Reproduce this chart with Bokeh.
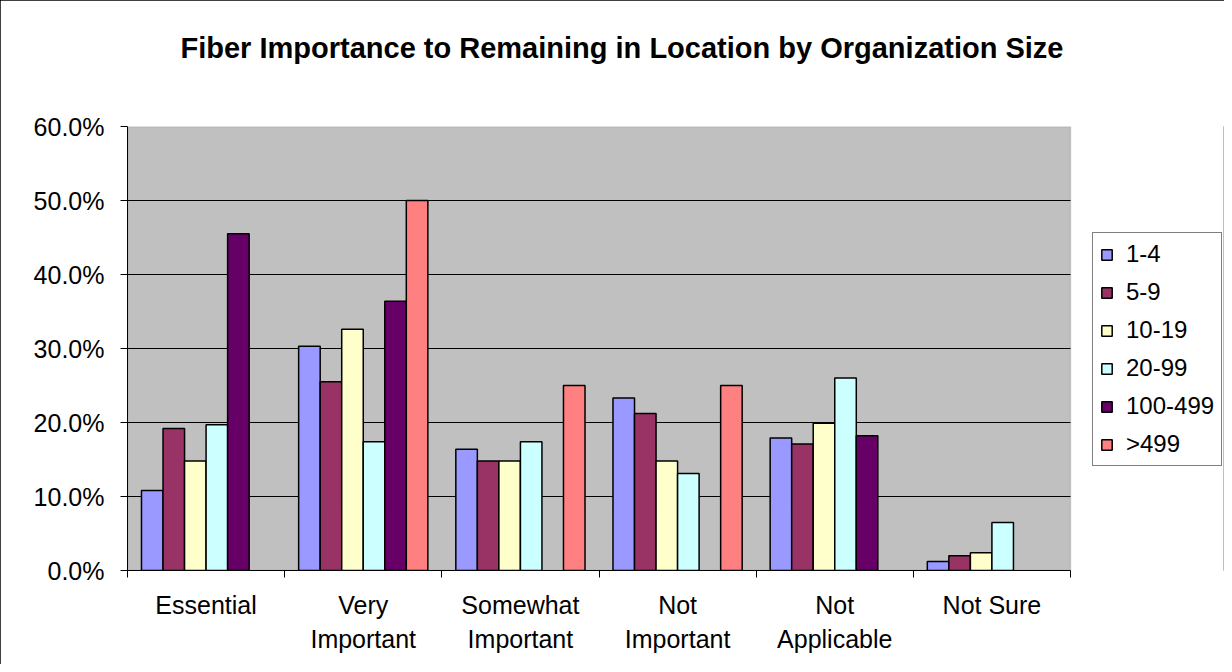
from bokeh.plotting import figure
from bokeh.models import (ColumnDataSource, Range1d, FixedTicker, Title,
                          NumeralTickFormatter, Legend, LegendItem, BoxAnnotation)
from bokeh.embed import file_html
from bokeh.resources import INLINE

# ---------------- data ----------------
categories = ["Essential", "Very Important", "Somewhat Important",
              "Not Important", "Not Applicable", "Not Sure"]
category_labels = ["Essential", "Very\nImportant", "Somewhat\nImportant",
                   "Not\nImportant", "Not\nApplicable", "Not Sure"]
series_names = ["1-4", "5-9", "10-19", "20-99", "100-499", ">499"]

s_1_4 = [10.8, 30.3, 16.4, 23.3, 17.9, 1.2]
s_5_9 = [19.2, 25.5, 14.8, 21.2, 17.1, 2.0]
s_10_19 = [14.8, 32.6, 14.8, 14.8, 19.9, 2.4]
s_20_99 = [19.7, 17.4, 17.4, 13.1, 26.0, 6.5]
s_100_499 = [45.5, 36.4, None, None, 18.2, None]
s_gt_499 = [None, 50.0, 25.0, 25.0, None, None]

series_values = [s_1_4, s_5_9, s_10_19, s_20_99, s_100_499, s_gt_499]
series_colors = ["#9999FF", "#993366", "#FFFFCC", "#CCFFFF", "#660066", "#FF8080"]

y_ticks = [0.0, 0.1, 0.2, 0.3, 0.4, 0.5, 0.6]
title_text = "Fiber Importance to Remaining in Location by Organization Size"

FONT = "Liberation Sans"

# ---------------- layout ----------------
W, H = 1224, 664
left_b, right_b, top_b, bottom_b = 127, 1, 126, 94
plot_area_w = 943          # pixel width of the grey plotting area
frame_w = W - left_b - right_b
n_cat = len(categories)
x_end = n_cat * frame_w / plot_area_w   # frame extends right to hold the legend

p = figure(width=W, height=H, output_backend="svg", toolbar_location=None,
           x_range=Range1d(0, x_end), y_range=Range1d(0, 0.6),
           min_border_left=left_b, min_border_right=right_b,
           min_border_top=top_b, min_border_bottom=bottom_b,
           background_fill_color="white", border_fill_color="white")
p.styles = {"outline": "1px solid black", "outline-offset": "-1px"}
p.outline_line_color = None

# spacer (next to the plot area), then the title above it
p.add_layout(Title(text=" ", text_font_size="50px", standoff=0), "above")
p.add_layout(Title(text=title_text, align="left", offset=53,
                   text_font=FONT, text_font_size="29px",
                   text_font_style="bold", text_color="black"), "above")

# grey plot area
p.add_layout(BoxAnnotation(left=0, right=n_cat, bottom=y_ticks[0], top=y_ticks[-1],
                           fill_color="#C0C0C0", fill_alpha=1,
                           line_color="#808080", line_width=1.5, level="image"))

# horizontal gridlines limited to the plot area
p.xgrid.visible = False
p.ygrid.visible = False
grid_y = y_ticks[1:-1]
p.segment(x0=[0] * len(grid_y), x1=[n_cat] * len(grid_y), y0=grid_y, y1=grid_y,
          line_color="black", line_width=1, level="underlay")

# bars
bar_w = 0.137
n_ser = len(series_names)
items = []
for j, (name, vals, col) in enumerate(zip(series_names, series_values, series_colors)):
    xs, tops = [], []
    for i, v in enumerate(vals):
        if v is None:
            continue
        xs.append(i + 0.5 + (j - (n_ser - 1) / 2) * bar_w)
        tops.append(v / 100.0)
    src = ColumnDataSource(dict(x=xs, top=tops))
    r = p.vbar(x="x", top="top", bottom=0, width=bar_w, source=src,
               fill_color=col, line_color="black", line_width=1.5)
    items.append(LegendItem(label=name, renderers=[r]))

# y axis
p.yaxis.ticker = FixedTicker(ticks=y_ticks)
p.yaxis.formatter = NumeralTickFormatter(format="0.0%")
p.yaxis.major_label_text_font = FONT
p.yaxis.major_label_text_font_size = "25px"
p.yaxis.major_label_text_color = "black"
p.yaxis.major_tick_in = 0
p.yaxis.major_tick_out = 7
p.yaxis.major_tick_line_color = "black"
p.yaxis.minor_tick_line_color = None
p.yaxis.axis_line_color = "black"
p.yaxis.major_label_standoff = 16

# x axis: labels at category centres, ticks at category boundaries
centers = [i + 0.5 for i in range(n_cat)]
bounds = [float(i) for i in range(n_cat + 1)]
p.xaxis.bounds = (0, n_cat)
p.xaxis.ticker = FixedTicker(ticks=centers, minor_ticks=bounds)
p.xaxis.major_label_overrides = {c: lab for c, lab in zip(centers, category_labels)}
p.xaxis.major_tick_line_color = None
p.xaxis.minor_tick_line_color = "black"
p.xaxis.minor_tick_in = 0
p.xaxis.minor_tick_out = 7
p.xaxis.axis_line_color = "black"
p.xaxis.major_label_text_font = FONT
p.xaxis.major_label_text_font_size = "25px"
p.xaxis.major_label_text_color = "black"
p.xaxis.major_label_standoff = 13
p.xaxis.major_label_text_line_height = 1.22

# legend
legend = Legend(items=items, location=(965, 104),
                label_text_font=FONT, label_text_font_size="24px",
                label_text_color="black",
                border_line_color="black", border_line_width=1,
                background_fill_color="white", background_fill_alpha=1,
                padding=7, spacing=10, margin=0,
                glyph_width=13, glyph_height=13, label_standoff=13)
p.add_layout(legend)

open("out.html", "w").write(file_html(p, INLINE))
